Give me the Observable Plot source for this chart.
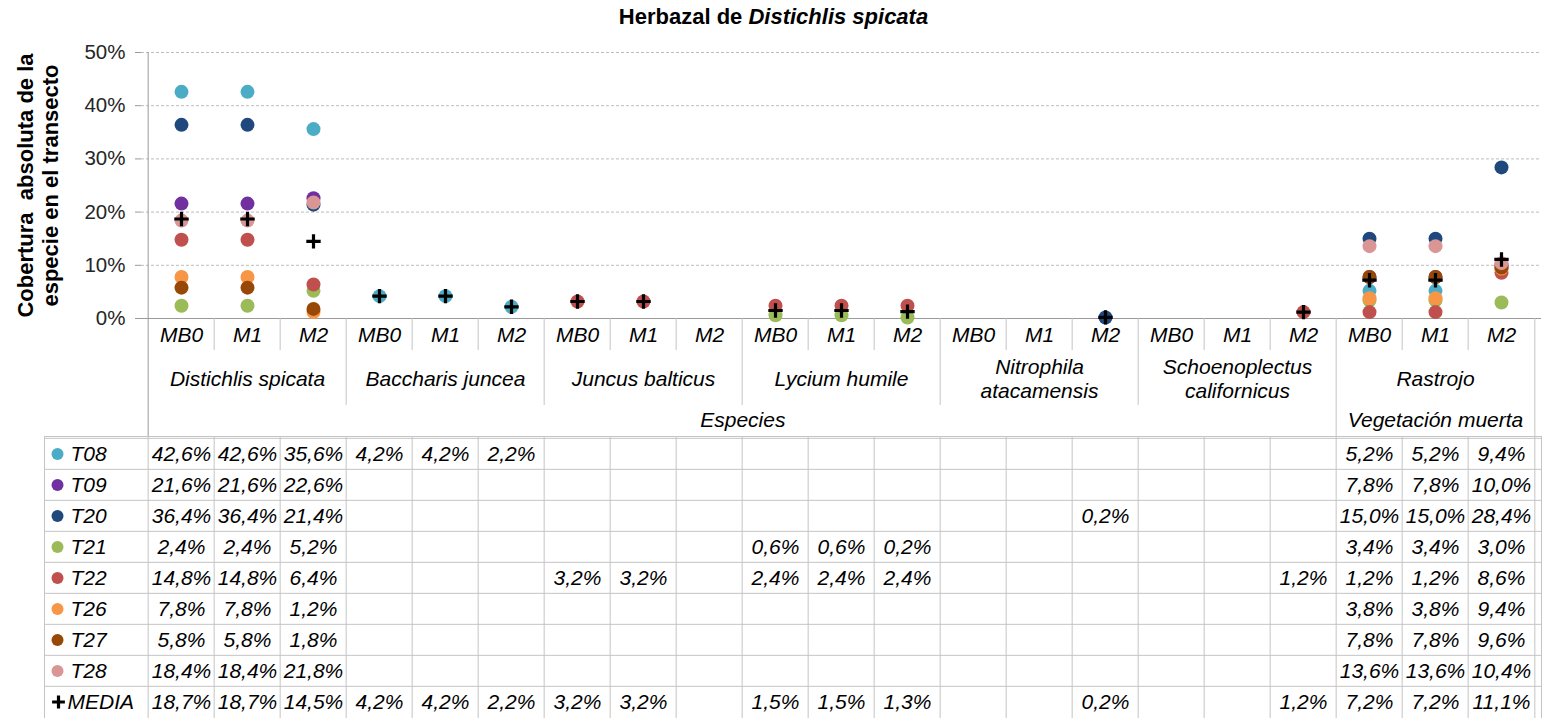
<!DOCTYPE html>
<html><head><meta charset="utf-8">
<script src="https://cdn.jsdelivr.net/npm/d3@7"></script>
<script src="https://cdn.jsdelivr.net/npm/@observablehq/plot@0.6"></script>
<style>
html,body{margin:0;padding:0;background:#fff;overflow:hidden}
body{font-family:'Liberation Sans',Arial,sans-serif}
#title{height:34px;line-height:34px;text-align:center;font-weight:bold;font-size:22px;color:#000}
svg{display:block}
</style></head><body>
<div id="title">Herbazal de <i>Distichlis spicata</i></div>
<div id="chart"></div>
<div id="table"></div>
<script>
// ---- data ----
const species = ["Distichlis spicata","Baccharis juncea","Juncus balticus","Lycium humile","Nitrophila atacamensis","Schoenoplectus californicus","Rastrojo"];
const speciesLabels = ["Distichlis spicata","Baccharis juncea","Juncus balticus","Lycium humile","Nitrophila\natacamensis","Schoenoplectus\ncalifornicus","Rastrojo"];
const moments = ["MB0","M1","M2"];
const groupNames = ["Especies","Vegetación muerta"];
const groupOfSpecies = [0,0,0,0,0,0,1];
const seriesNames = ["T08","T09","T20","T21","T22","T26","T27","T28"];
const seriesColors = ["#4bacc6","#7030a0","#1f497d","#9bbb59","#c0504d","#f79646","#974706","#d99694"];
const n = null;
const T08 = [42.6,42.6,35.6, 4.2,4.2,2.2, n,n,n, n,n,n, n,n,n, n,n,n, 5.2,5.2,9.4];
const T09 = [21.6,21.6,22.6, n,n,n, n,n,n, n,n,n, n,n,n, n,n,n, 7.8,7.8,10.0];
const T20 = [36.4,36.4,21.4, n,n,n, n,n,n, n,n,n, n,n,0.2, n,n,n, 15.0,15.0,28.4];
const T21 = [2.4,2.4,5.2, n,n,n, n,n,n, 0.6,0.6,0.2, n,n,n, n,n,n, 3.4,3.4,3.0];
const T22 = [14.8,14.8,6.4, n,n,n, 3.2,3.2,n, 2.4,2.4,2.4, n,n,n, n,n,1.2, 1.2,1.2,8.6];
const T26 = [7.8,7.8,1.2, n,n,n, n,n,n, n,n,n, n,n,n, n,n,n, 3.8,3.8,9.4];
const T27 = [5.8,5.8,1.8, n,n,n, n,n,n, n,n,n, n,n,n, n,n,n, 7.8,7.8,9.6];
const T28 = [18.4,18.4,21.8, n,n,n, n,n,n, n,n,n, n,n,n, n,n,n, 13.6,13.6,10.4];
const MEDIA = [18.7,18.7,14.5, 4.2,4.2,2.2, 3.2,3.2,n, 1.5,1.5,1.3, n,n,0.2, n,n,1.2, 7.2,7.2,11.1];
const yTicks = [0,10,20,30,40,50];

// ---- build ----
const seriesValues = [T08,T09,T20,T21,T22,T26,T27,T28];
const cols = species.flatMap(s => moments.map(m => s + "|" + m));
const W = 1547, ML = 141, MR = 6;
const bw = (W - ML - MR) / cols.length;
const FONT = "'Liberation Sans', Arial, sans-serif";
const FS = 21;
const lineC = "#c4c4c4", axisC = "#9a9a9a";

const points = [];
seriesValues.forEach((vals, i) => vals.forEach((v, j) => { if (v != null) points.push({s: seriesNames[i], col: cols[j], v}); }));
const meanPts = [];
MEDIA.forEach((v, j) => { if (v != null) meanPts.push({col: cols[j], v}); });

const H1 = 402, MT1 = 18, MB1 = 118;
const frameH = H1 - MT1 - MB1;

const colIdx = cols.map((c, i) => i);
const hdr = {frameAnchor: "bottom", lineAnchor: "middle", textAnchor: "middle", fontStyle: "italic", fontSize: FS, fill: "#000"};
const groupMarks = groupNames.map((g, gi) => {
  const idx = colIdx.filter(i => groupOfSpecies[Math.floor(i / 3)] === gi);
  const mid = (idx[0] + idx[idx.length - 1]) / 2;
  return Plot.text([g], {...hdr, x: () => cols[Math.floor(mid)], text: d => d, dy: 102, dx: (mid - Math.floor(mid)) * bw});
});

const chart = Plot.plot({
  width: W, height: H1,
  marginLeft: ML, marginRight: MR, marginTop: MT1, marginBottom: MB1,
  style: {fontFamily: FONT, fontSize: FS + "px", background: "#fff", overflow: "visible"},
  x: {type: "band", domain: cols, padding: 0, axis: null},
  y: {domain: [0, 50], axis: null},
  color: {domain: seriesNames, range: seriesColors},
  marks: [
    Plot.ruleY(yTicks.filter(d => d > 0), {stroke: "#bdbdbd", strokeDasharray: "3,2"}),
    Plot.ruleY([0], {stroke: axisC}),
    Plot.axisY({ticks: yTicks, tickFormat: d => d + "%", tickSize: 6, tickPadding: 10, stroke: axisC, fill: "#262626", fontSize: 20.5, label: null}),
    // y axis line extended through header
    Plot.ruleX([cols[0]], {dx: -bw / 2, insetBottom: -MB1, stroke: axisC}),
    // header separators
    Plot.ruleX(colIdx.filter(i => i % 3 !== 0).map(i => cols[i]), {dx: -bw / 2, insetTop: frameH, insetBottom: -32, stroke: lineC}),
    Plot.ruleX(colIdx.filter(i => i % 3 === 0 && i > 0 && groupOfSpecies[i / 3] === groupOfSpecies[i / 3 - 1]).map(i => cols[i]), {dx: -bw / 2, insetTop: frameH, insetBottom: -87, stroke: lineC}),
    Plot.ruleX(colIdx.filter(i => i % 3 === 0 && i > 0 && groupOfSpecies[i / 3] !== groupOfSpecies[i / 3 - 1]).map(i => cols[i]), {dx: -bw / 2, insetTop: frameH, insetBottom: -MB1, stroke: lineC}),
    Plot.ruleX([cols[cols.length - 1]], {dx: bw / 2, insetTop: frameH, insetBottom: -MB1, stroke: lineC}),
    // header labels
    Plot.text(cols, {...hdr, x: d => d, text: d => d.split("|")[1], dy: 17}),
    Plot.text(species, {...hdr, x: d => d + "|M1", text: (d, i) => speciesLabels[i], dy: 60, lineHeight: 1.15}),
    ...groupMarks,
    // y label
    Plot.text(["Cobertura  absoluta de la\nespecie en el transecto"], {frameAnchor: "left", textAnchor: "middle", lineAnchor: "middle", dx: -104, rotate: -90, text: d => d, fontWeight: "bold", fontSize: 22, lineHeight: 1.15, fill: "#000"}),
    // points
    Plot.dot(points, {x: "col", y: "v", fill: "s", r: 7}),
    Plot.dot(meanPts, {x: "col", y: "v", symbol: "plus", r: 4.7, stroke: "#000", strokeWidth: 3.2})
  ]
});
document.getElementById("chart").appendChild(chart);

// ---- table ----
const rows = [...seriesNames, "MEDIA"];
const allVals = [...seriesValues, MEDIA];
const cells = [];
allVals.forEach((vals, i) => vals.forEach((v, j) => { if (v != null) cells.push({row: rows[i], col: cols[j], t: v.toFixed(1).replace(".", ",") + "%"}); }));
const H2 = 282;
const bh = H2 / rows.length;
const LB = 44;
const table = Plot.plot({
  width: W, height: H2,
  marginLeft: ML, marginRight: MR, marginTop: 0, marginBottom: 0,
  style: {fontFamily: FONT, fontSize: FS + "px", background: "#fff", overflow: "visible"},
  x: {type: "band", domain: cols, padding: 0, axis: null},
  y: {type: "band", domain: rows, padding: 0, axis: null},
  color: {domain: seriesNames, range: seriesColors},
  marks: [
    Plot.ruleY(rows, {y: d => d, dy: -bh / 2, insetLeft: -(ML - LB), stroke: lineC}),
    Plot.ruleX(cols, {x: d => d, dx: -bw / 2, stroke: lineC}),
    Plot.ruleX([cols[cols.length - 1]], {x: d => d, dx: bw / 2, stroke: lineC}),
    Plot.frame({insetLeft: -(ML - LB), stroke: lineC}),
    Plot.dot(seriesNames, {y: d => d, frameAnchor: "left", dx: -84, r: 6, fill: d => d}),
    Plot.dot(["MEDIA"], {y: d => d, frameAnchor: "left", dx: -83, r: 4.2, symbol: "plus", stroke: "#000", strokeWidth: 3.2}),
    Plot.text(seriesNames, {y: d => d, text: d => d, frameAnchor: "left", dx: -71, textAnchor: "start", lineAnchor: "middle", fontStyle: "italic", fontSize: FS, fill: "#000"}),
    Plot.text(["MEDIA"], {y: d => d, text: d => d, frameAnchor: "left", dx: -74, textAnchor: "start", lineAnchor: "middle", fontStyle: "italic", fontSize: FS, fill: "#000"}),
    Plot.text(cells, {x: "col", y: "row", text: "t", fontStyle: "italic", fontSize: FS, fill: "#000"})
  ]
});
document.getElementById("table").appendChild(table);
</script>
</body></html>
